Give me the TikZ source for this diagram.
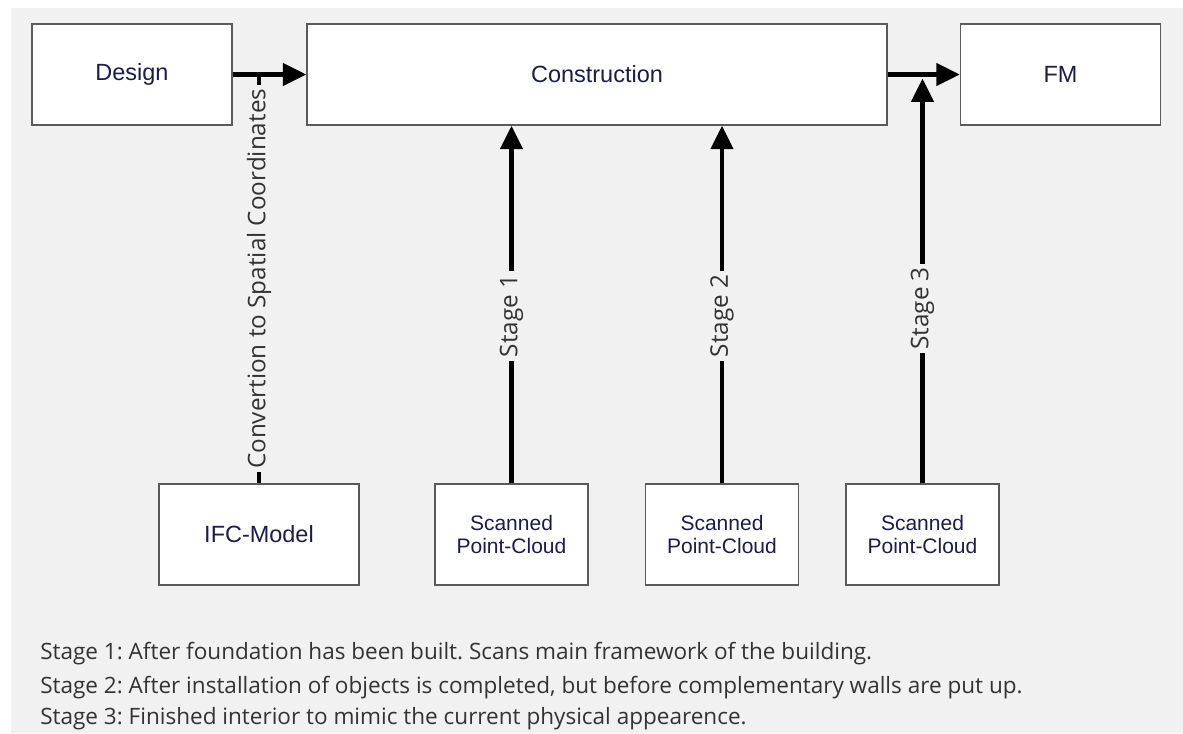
\documentclass[tikz,border=0pt]{standalone}
\usepackage{fontspec}
\setmainfont{Liberation Sans}
\newfontfamily\notefont{Open Sans}
\usetikzlibrary{arrows.meta}
\definecolor{bgray}{HTML}{F1F1F1}
\definecolor{boxtext}{HTML}{1C1C4C}
\definecolor{boxline}{HTML}{5A5A5A}
\definecolor{notetext}{HTML}{333333}
\frenchspacing

\begin{document}
\begin{tikzpicture}[x=0.75pt,y=-0.75pt,
  box/.style={draw=boxline, line width=1.1pt, fill=white, text=boxtext,
    inner sep=0pt, align=center, minimum height=75.75pt,
    font=\fontsize{17.6}{21}\selectfont},
  widebox/.style={box, minimum width=150pt},
  scanbox/.style={box, minimum width=114.75pt,
    font=\fontsize{15.75}{17.25}\selectfont},
  link/.style={line width=3.3pt},
  flow/.style={link, -{Triangle[length=17.5pt,width=16.5pt]}},
  vlabel/.style={fill=bgray, rotate=90, text=notetext, inner sep=2.5pt,
    font=\notefont\fontsize{18.2}{21}\selectfont},
  note/.style={anchor=west, text=notetext, inner sep=0pt,
    font=\notefont\fontsize{16.9}{20}\selectfont}
]
% canvas and backdrop
\useasboundingbox (0,0) rectangle (1183,733);
\fill[white] (0,0) rectangle (1183,733);
\fill[bgray] (11,8) rectangle (1183,733);

% life-cycle phases
\node[widebox] (design) at (132,74.5) {Design};
\node[box, minimum width=435pt] (constr) at (597,74.5) {Construction};
\node[widebox] (fm) at (1060.5,74.5) {FM};

% data sources
\node[widebox] (ifc) at (259,534.5) {IFC-Model};
\node[scanbox] (s1) at (511.5,534.5) {Scanned\\Point-Cloud};
\node[scanbox] (s2) at (722,534.5) {Scanned\\Point-Cloud};
\node[scanbox] (s3) at (922.5,534.5) {Scanned\\Point-Cloud};

% phase flow
\draw[flow] (design.east) -- (constr.west);
\draw[flow] (constr.east) -- (fm.west);

% inputs
\coordinate (ifcjoin) at (ifc.north |- design.east);
\draw[link] (ifc.north) -- (ifcjoin)
  node[vlabel, pos=0.5] {Convertion to Spatial Coordinates};
\draw[flow] (s1.north) -- (s1.north |- constr.south)
  node[vlabel, pos=0.468] {Stage 1};
\draw[flow] (s2.north) -- (s2.north |- constr.south)
  node[vlabel, pos=0.468] {Stage 2};
\coordinate (s3tip) at ([yshift=-3pt]s3.north |- constr.east);
\draw[flow] (s3.north) -- (s3tip)
  node[vlabel, pos=0.432] {Stage 3};

% stage notes
\node[note] (note1) at (40,654) {Stage 1: After foundation has been built. Scans main framework of the building.};
\node[note] (note2) at (40,688) {Stage 2: After installation of objects is completed, but before complementary walls are put up.};
\node[note] (note3) at (40,719) {Stage 3: Finished interior to mimic the current physical appearence.};
\end{tikzpicture}
\end{document}
